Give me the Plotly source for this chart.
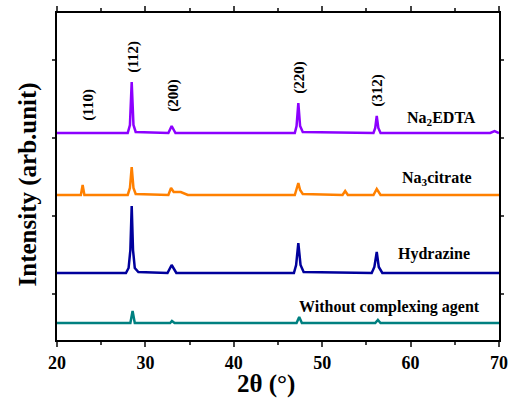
import plotly.graph_objects as go

# ---- data (2θ in degrees, intensity in arbitrary units incl. vertical offset) ----
edta_x = [20, 28.0, 28.25, 28.45, 28.65, 28.9, 32.6, 32.97, 33.4, 46.9, 47.1, 47.3, 47.5, 47.8,
          55.8, 56.0, 56.17, 56.35, 56.6, 69.0, 69.5, 70]
edta_y = [207, 207, 215, 258, 215, 208, 207, 214, 207, 207, 214, 237, 214, 208,
          207, 212, 224, 212, 207, 207, 209, 207]

citrate_x = [20, 22.7, 22.9, 23.1, 28.0, 28.25, 28.45, 28.65, 28.9, 32.6, 32.9, 33.2, 34.0, 34.8,
             46.9, 47.1, 47.3, 47.5, 47.8, 52.3, 52.6, 52.9, 55.8, 56.17, 56.6, 70]
citrate_y = [145, 145, 155, 145, 145, 152, 173, 152, 146, 145, 152, 148, 148, 145,
             145, 150, 157, 150, 146, 145, 149, 145, 145, 151, 145, 145]

hydrazine_x = [20, 27.8, 28.1, 28.3, 28.45, 28.6, 28.8, 29.2, 32.5, 32.97, 33.5, 46.8, 47.05, 47.3,
               47.55, 47.9, 55.6, 55.9, 56.17, 56.4, 56.8, 70]
hydrazine_y = [67, 67, 72, 90, 134, 90, 72, 68, 67, 75, 67, 67, 75, 97,
               75, 68, 67, 73, 88, 73, 67, 67]

without_x = [20, 28.3, 28.55, 28.8, 32.8, 33.0, 33.3, 47.1, 47.4, 47.7, 56.0, 56.3, 56.6, 70]
without_y = [17, 17, 29, 17, 17, 19, 17, 17, 23, 17, 17, 20, 17, 17]

series_names = ["Na<sub>2</sub>EDTA", "Na<sub>3</sub>citrate", "Hydrazine", "Without complexing agent"]
series_colors = ["#8C00FF", "#FF8000", "#00009C", "#008080"]
series_label_x = [63.5, 63.0, 62.7, 57.6]
series_label_y = [222, 162, 86, 33]

hkl_labels = ["(110)", "(112)", "(200)", "(220)", "(312)"]
hkl_x = [23.47, 28.56, 33.09, 47.34, 56.17]
hkl_y = [235, 283, 245, 263, 250]

x_ticks = [20, 30, 40, 50, 60, 70]
y_ticks = [46, 124, 202, 280]

FONT = "Liberation Serif"

fig = go.Figure()
for xs, ys, c in [(edta_x, edta_y, series_colors[0]), (citrate_x, citrate_y, series_colors[1]),
                  (hydrazine_x, hydrazine_y, series_colors[2]), (without_x, without_y, series_colors[3])]:
    fig.add_trace(go.Scatter(x=xs, y=ys, mode="lines", line=dict(color=c, width=2.5), showlegend=False))

for t, x, y in zip(series_names, series_label_x, series_label_y):
    fig.add_annotation(x=x, y=y, text="<b>" + t + "</b>", showarrow=False, xanchor="center",
                       yanchor="middle", font=dict(family=FONT, size=16, color="black"))

for t, x, y in zip(hkl_labels, hkl_x, hkl_y):
    fig.add_annotation(x=x, y=y, text="<b>" + t + "</b>", showarrow=False, textangle=-90,
                       xanchor="center", yanchor="middle", font=dict(family=FONT, size=15, color="black"))

fig.add_annotation(xref="paper", yref="paper", x=0.473, y=-0.136, text="<b>2θ (°)</b>", showarrow=False,
                   xanchor="center", yanchor="middle", font=dict(family=FONT, size=25, color="black"))
fig.add_annotation(xref="paper", yref="paper", x=-0.066, y=0.475, text="<b>Intensity (arb.unit)</b>",
                   showarrow=False, textangle=-90, xanchor="center", yanchor="middle",
                   font=dict(family=FONT, size=25, color="black"))

fig.update_layout(
    width=512, height=399,
    margin=dict(l=57, r=4, t=13, b=59),
    paper_bgcolor="white", plot_bgcolor="white",
    xaxis=dict(range=[20, 70], tickvals=x_ticks, ticktext=["<b>%d</b>" % v for v in x_ticks],
               ticks="outside", ticklen=5, tickwidth=1.5,
               showline=True, linecolor="black", linewidth=2, mirror="allticks",
               showgrid=False, zeroline=False,
               minor=dict(dtick=5, tick0=20, ticks="outside", ticklen=3, tickwidth=1.5, showgrid=False),
               tickfont=dict(family=FONT, size=18, color="black")),
    yaxis=dict(range=[0, 327], tickvals=y_ticks, showticklabels=False, ticks="outside", ticklen=3,
               tickwidth=1.5, showline=True, linecolor="black", linewidth=2, mirror="allticks",
               showgrid=False, zeroline=False),
)

fig.write_html("out.html")
